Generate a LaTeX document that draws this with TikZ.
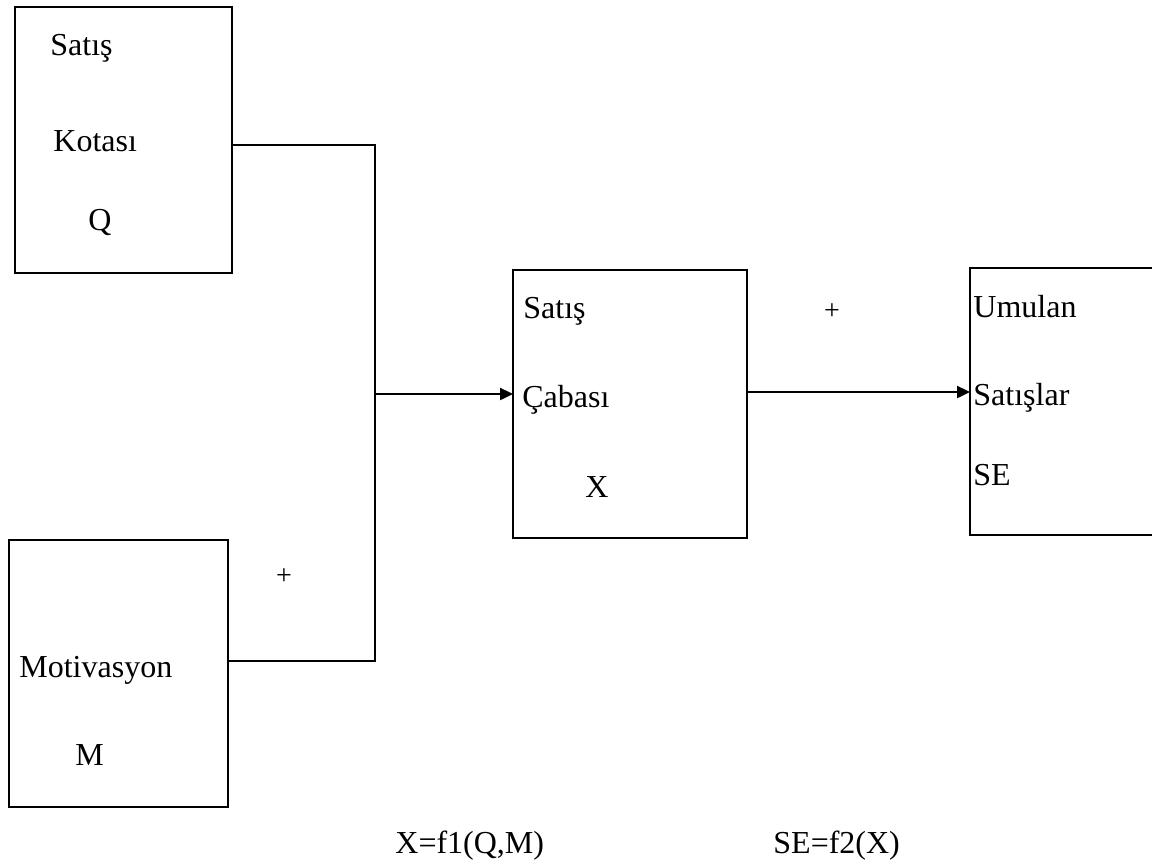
\documentclass[tikz,border=0pt]{standalone}
\usepackage{fontspec}
\setmainfont{Liberation Serif}
\usetikzlibrary{arrows.meta}

\begin{document}
\begin{tikzpicture}[
        x=0.5pt, y=-0.5pt,
        % Cajas de las variables
        box/.style={draw, line width=0.8pt, inner sep=0pt, outer sep=0pt, minimum width=117pt, minimum height=134pt},
        % Textos dentro y fuera de las cajas
        txt/.style={anchor=base west, inner sep=0pt, font=\fontsize{16}{19}\selectfont},
        % Signos
        sign/.style={inner sep=0pt, font=\fontsize{14}{16}\selectfont},
        % Conectores
        edge/.style={black, line width=1.2pt},
        arrow/.style={edge, -{Triangle[length=6.5pt, width=6pt]}}
    ]
        \clip (0,0) rectangle (1152,863);

        % Cajas
        \node[box, minimum width=108.5pt, minimum height=133pt] (boxQ) at (123.5,140) {};
        \node[box, minimum width=109.5pt, minimum height=133.5pt] (boxM) at (118.5,673.5) {};
        \node[box] (boxX) at (630,404) {};
        \node[box, minimum height=133.5pt] (boxSE) at (1087,401.5) {};

        % Textos de las cajas
        \node[txt] (q1) at (50,55) {Satış};
        \node[txt] (q2) at (53,151) {Kotası};
        \node[txt] (q3) at (88,230) {Q};
        \node[txt] (m1) at (19,677) {Motivasyon};
        \node[txt] (m2) at (75,765) {M};
        \node[txt] (x1) at (523,318) {Satış};
        \node[txt] (x2) at (522,407) {Çabası};
        \node[txt] (x3) at (585,497) {X};
        \node[txt] (s1) at (973,317) {Umulan};
        \node[txt] (s2) at (973,405) {Satışlar};
        \node[txt] (s3) at (973,485) {SE};

        % Signos y funciones
        \node[sign] (plusM) at (284,577) {+};
        \node[sign] (plusX) at (832,312) {+};
        \node[txt] (f1) at (395,853) {X=f1(Q,M)};
        \node[txt] (f2) at (773,853) {SE=f2(X)};

        % Conectores
        \coordinate (jtop) at (375,145);
        \coordinate (jmid) at (375,394);
        \coordinate (jbot) at (375,661);
        \draw[edge] (boxQ.east |- jtop) -- (jtop) -- (jbot) -- (boxM.east |- jbot);
        \draw[arrow] (jmid) -- (boxX.west |- jmid);
        \draw[arrow] ([yshift=6pt]boxX.east) -- ([yshift=6pt]boxX.east -| boxSE.west);

    \end{tikzpicture}
\end{document}
